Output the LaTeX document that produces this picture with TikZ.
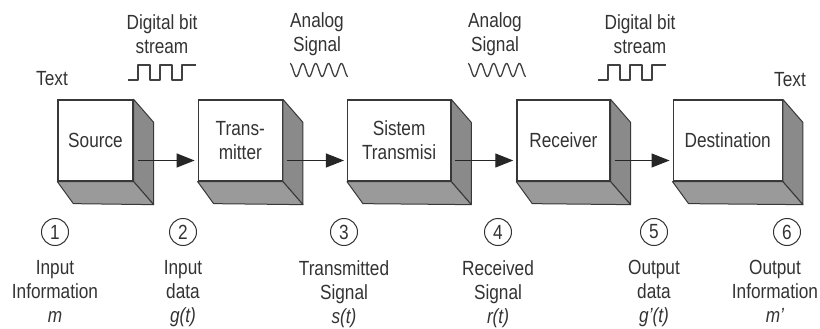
\documentclass[tikz,border=0pt]{standalone}
\usepackage{fontspec}
\setmainfont{Liberation Sans}[FakeStretch=0.84]
\usetikzlibrary{positioning,arrows.meta}
\definecolor{sidegray}{HTML}{8A8A8A}
\definecolor{basegray}{HTML}{9A9A9A}
\definecolor{edgegray}{HTML}{383838}
\newcommand{\blockdepth}[1]{\filldraw[sideface] (#1.north east) -- ++(20,-23) -- ([shift={(20,-23)}]#1.south east) -- (#1.south east) -- cycle;\filldraw[baseface] (#1.south west) -- (#1.south east) -- ([shift={(20,-23)}]#1.south east) -- ([shift={(16,-22)}]#1.south west) -- cycle;}
\newcommand{\bitstream}[1]{\draw[wavepen] #1 -- ++(10,0) -- ++(0,15) -- ++(12,0) -- ++(0,-15) -- ++(10,0) -- ++(0,15) -- ++(12,0) -- ++(0,-15) -- ++(10,0) -- ++(0,15) -- ++(14,0);}
\newcommand{\sinewave}[1]{\draw[wavepen, shift={#1}] plot[domain=0:1620, samples=140, smooth] ({\x/28}, {6.5*cos(\x)});}
\tikzset{blockface/.style={draw=edgegray, fill=white, line width=1.3pt, minimum height=81pt, inner sep=2pt, align=center},
  sideface/.style={fill=sidegray, draw=edgegray, line width=1pt, line join=round},
  baseface/.style={fill=basegray, draw=edgegray, line width=1pt, line join=round},
  sigarrow/.style={-{Triangle[length=18pt, width=14pt]}, line width=1.2pt, black!85, shorten <=4pt, shorten >=3pt},
  wavepen/.style={line width=1.3pt, black!75, line join=round},
  toplab/.style={align=center, inner sep=0pt},
  stagenum/.style={circle, draw=black!80, line width=1pt, minimum size=27pt, inner sep=0pt},
  stagelab/.style={align=center, inner sep=0pt}}

\begin{document}
\begin{tikzpicture}[x=1pt, y=1pt, font=\fontsize{20.5}{24}\selectfont, text=black!80]
\useasboundingbox (0,0) rectangle (820,-329);
% the five blocks
\node[blockface, minimum width=75pt] (src) at (95.5,-140.5) {Source};
\node[blockface, minimum width=84pt, right=64pt of src] (tx) {Trans-\\mitter};
\node[blockface, minimum width=103pt, right=64pt of tx] (ch) {Sistem\\Transmisi};
\node[blockface, minimum width=93pt, right=65pt of ch] (rx) {Receiver};
\node[blockface, minimum width=109pt, right=62pt of rx] (dst) {Destination};
\blockdepth{src}
\blockdepth{tx}
\blockdepth{ch}
\blockdepth{rx}
\blockdepth{dst}
\draw[sigarrow] ([yshift=-20pt]src.east) -- ([yshift=-20pt]tx.west);
\draw[sigarrow] ([yshift=-20pt]tx.east) -- ([yshift=-20pt]ch.west);
\draw[sigarrow] ([yshift=-20pt]ch.east) -- ([yshift=-20pt]rx.west);
\draw[sigarrow] ([yshift=-20pt]rx.east) -- ([yshift=-20pt]dst.west);
% signal forms above
\node[toplab] (txtin) at (52,-79) {Text};
\node[toplab] (bits1) at (162,-34.5) {Digital bit\\stream};
\bitstream{(128,-80)}
\node[toplab] (ana1) at (317,-34.5) {Analog\\Signal};
\sinewave{(290,-70)}
\node[toplab] (ana2) at (495,-34.5) {Analog\\Signal};
\sinewave{(468,-70)}
\node[toplab] (bits2) at (640,-34.5) {Digital bit\\stream};
\bitstream{(598,-80)}
\node[toplab] (txtout) at (790,-80) {Text};
% numbered points below
\node[stagenum] (n1) at (55,-232) {1};
\node[stagenum] (n2) at (183,-232) {2};
\node[stagenum] (n3) at (344,-232) {3};
\node[stagenum] (n4) at (498,-232) {4};
\node[stagenum] (n5) at (654,-232) {5};
\node[stagenum] (n6) at (787,-232) {6};
\node[stagelab, below=14pt of n1] (l1) {Input\\Information\\\textit{m}};
\node[stagelab, below=14pt of n2] (l2) {Input\\data\\\textit{g(t)}};
\node[stagelab, below=14pt of n3] (l3) {Transmitted\\Signal\\\textit{s(t)}};
\node[stagelab, below=14pt of n4] (l4) {Received\\Signal\\\textit{r(t)}};
\node[stagelab, below=14pt of n5] (l5) {Output\\data\\\textit{g'(t)}};
\node[stagelab, below=14pt of n6, xshift=-12pt] (l6) {Output\\Information\\\textit{m'}};
\end{tikzpicture}
\end{document}
